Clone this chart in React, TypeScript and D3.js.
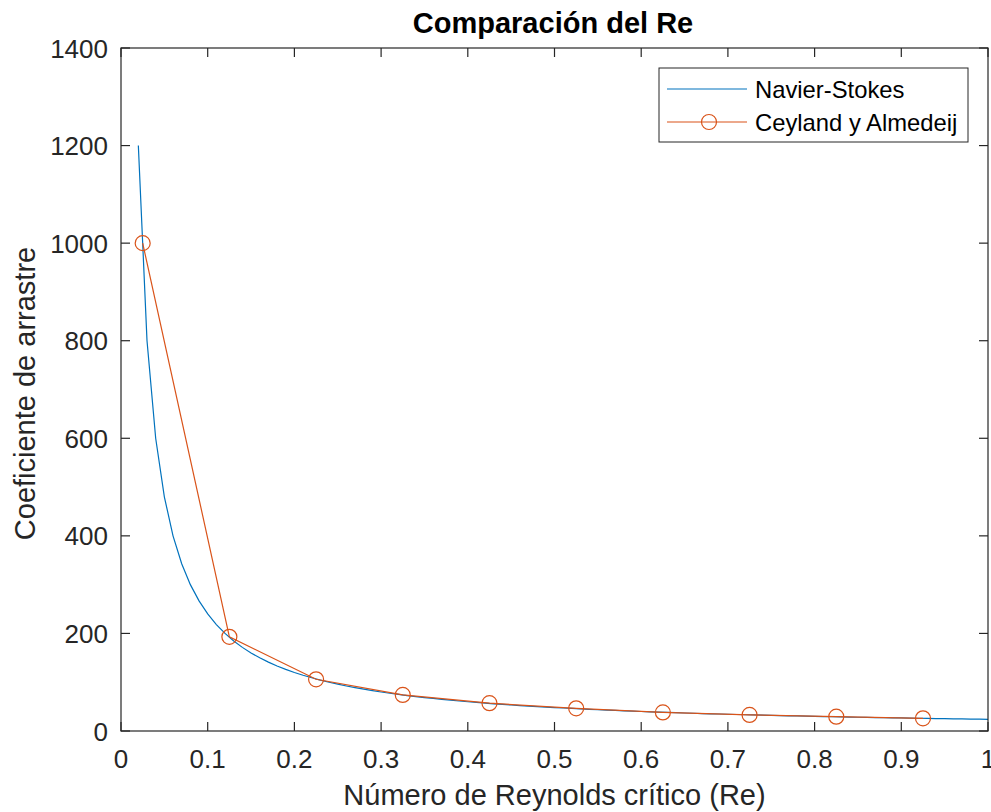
import React from 'react';
import * as d3 from 'd3';

// Navier-Stokes curve
const nsRe = [0.02, 0.03, 0.04, 0.05, 0.06, 0.07, 0.08, 0.09, 0.1, 0.11, 0.12, 0.13, 0.14, 0.15, 0.16, 0.17, 0.18, 0.19,
  0.2, 0.21, 0.22, 0.23, 0.24, 0.25, 0.26, 0.27, 0.28, 0.29, 0.3, 0.31, 0.32, 0.33, 0.34, 0.35, 0.36, 0.37, 0.38, 0.39,
  0.4, 0.41, 0.42, 0.43, 0.44, 0.45, 0.46, 0.47, 0.48, 0.49, 0.5, 0.51, 0.52, 0.53, 0.54, 0.55, 0.56, 0.57, 0.58, 0.59,
  0.6, 0.61, 0.62, 0.63, 0.64, 0.65, 0.66, 0.67, 0.68, 0.69, 0.7, 0.71, 0.72, 0.73, 0.74, 0.75, 0.76, 0.77, 0.78, 0.79,
  0.8, 0.81, 0.82, 0.83, 0.84, 0.85, 0.86, 0.87, 0.88, 0.89, 0.9, 0.91, 0.92, 0.93, 0.94, 0.95, 0.96, 0.97, 0.98, 0.99, 1.0];
const nsCd = [1200, 800, 600, 480, 400, 342.9, 300, 266.7, 240, 218.2, 200, 184.6, 171.4, 160, 150, 141.2, 133.3, 126.3,
  120, 114.3, 109.1, 104.3, 100, 96, 92.3, 88.9, 85.7, 82.8, 80, 77.4, 75, 72.7, 70.6, 68.6, 66.7, 64.9, 63.2, 61.5,
  60, 58.5, 57.1, 55.8, 54.5, 53.3, 52.2, 51.1, 50, 49, 48, 47.1, 46.2, 45.3, 44.4, 43.6, 42.9, 42.1, 41.4, 40.7,
  40, 39.3, 38.7, 38.1, 37.5, 36.9, 36.4, 35.8, 35.3, 34.8, 34.3, 33.8, 33.3, 32.9, 32.4, 32, 31.6, 31.2, 30.8, 30.4,
  30, 29.6, 29.3, 28.9, 28.6, 28.2, 27.9, 27.6, 27.3, 27, 26.7, 26.4, 26.1, 25.8, 25.5, 25.3, 25, 24.7, 24.5, 24.2, 24];

// Ceyland y Almedeij points
const caRe = [0.025, 0.125, 0.225, 0.325, 0.425, 0.525, 0.625, 0.725, 0.825, 0.925];
const caCd = [1000, 193, 106, 74, 57, 46.5, 38, 33, 29.4, 26];

const xTicks = [0, 0.1, 0.2, 0.3, 0.4, 0.5, 0.6, 0.7, 0.8, 0.9, 1];
const yTicks = [0, 200, 400, 600, 800, 1000, 1200, 1400];
const seriesNames = ['Navier-Stokes', 'Ceyland y Almedeij'];

const W = 991, H = 812;
const left = 121, right = 988, top = 48, bottom = 731;
const axisColor = '#262626';
const blue = '#0072BD', orange = '#D95319';
const font = 'Helvetica, Arial, "Liberation Sans", sans-serif';

export default function App() {
  const x = d3.scaleLinear().domain([0, 1]).range([left, right]);
  const y = d3.scaleLinear().domain([0, 1400]).range([bottom, top]);
  const line = d3.line<[number, number]>().x(d => x(d[0])).y(d => y(d[1]));
  const nsPath = line(nsRe.map((r, i) => [r, nsCd[i]] as [number, number])) || '';
  const caPath = line(caRe.map((r, i) => [r, caCd[i]] as [number, number])) || '';
  const tl = 9;

  return (
    <svg width={W} height={H} style={{ position: 'absolute', left: 0, top: 0, background: '#fff' }} fontFamily={font}>
      <rect x={0} y={0} width={W} height={H} fill="#fff" />
      {/* data */}
      <path d={nsPath} fill="none" stroke={blue} strokeWidth={1.2} />
      <path d={caPath} fill="none" stroke={orange} strokeWidth={1.2} />
      {caRe.map((r, i) => (
        <circle key={i} cx={x(r)} cy={y(caCd[i])} r={7.5} fill="none" stroke={orange} strokeWidth={1.2} />
      ))}

      {/* box */}
      <rect x={left} y={top} width={right - left} height={bottom - top} fill="none" stroke={axisColor} strokeWidth={1.2} />
      {xTicks.map(t => (
        <g key={'x' + t}>
          <line x1={x(t)} x2={x(t)} y1={bottom} y2={bottom - tl} stroke={axisColor} strokeWidth={1.2} />
          <line x1={x(t)} x2={x(t)} y1={top} y2={top + tl} stroke={axisColor} strokeWidth={1.2} />
          <text x={x(t)} y={768} textAnchor="middle" fontSize={26} fill={axisColor}>{String(t)}</text>
        </g>
      ))}
      {yTicks.map(t => (
        <g key={'y' + t}>
          <line x1={left} x2={left + tl} y1={y(t)} y2={y(t)} stroke={axisColor} strokeWidth={1.2} />
          <line x1={right} x2={right - tl} y1={y(t)} y2={y(t)} stroke={axisColor} strokeWidth={1.2} />
          <text x={108} y={y(t) + 9.5} textAnchor="end" fontSize={26} fill={axisColor}>{String(t)}</text>
        </g>
      ))}

      {/* labels */}
      <text x={553} y={33} textAnchor="middle" fontSize={29} fontWeight="bold" fill="#000">Comparación del Re</text>
      <text x={(left + right) / 2} y={805} textAnchor="middle" fontSize={29} fill={axisColor}>Número de Reynolds crítico (Re)</text>
      <text transform={`translate(35,${(top + bottom) / 2 + 4}) rotate(-90)`} textAnchor="middle" fontSize={29} fill={axisColor}>Coeficiente de arrastre</text>

      {/* legend */}
      <rect x={659} y={68} width={309} height={74} fill="#fff" stroke={axisColor} strokeWidth={1} />
      <line x1={667} x2={747} y1={89} y2={89} stroke={blue} strokeWidth={1.2} />
      <text x={755} y={89 + 8.5} fontSize={23.8} fill="#000">{seriesNames[0]}</text>
      <line x1={667} x2={747} y1={122} y2={122} stroke={orange} strokeWidth={1.2} />
      <circle cx={709} cy={122} r={7.5} fill="none" stroke={orange} strokeWidth={1.2} />
      <text x={755} y={122 + 8.5} fontSize={23.8} fill="#000">{seriesNames[1]}</text>
    </svg>
  );
}
